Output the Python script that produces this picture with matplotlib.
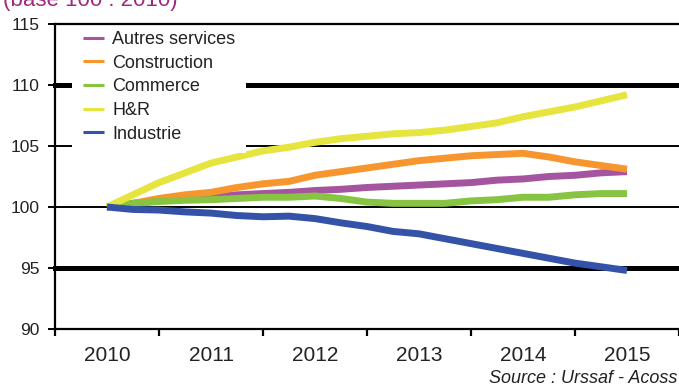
import numpy as np
import matplotlib.pyplot as plt

# quarterly index values, base 100 = 2010
quarters = np.arange(2010, 2015.01, 0.25)
years = [2010, 2011, 2012, 2013, 2014, 2015]

autres_services = [100, 100.3, 100.5, 100.7, 100.8, 101.0, 101.1, 101.2, 101.35, 101.45,
                   101.6, 101.7, 101.8, 101.9, 102.0, 102.2, 102.3, 102.5, 102.6, 102.8, 102.9]
construction = [100, 100.3, 100.7, 101.0, 101.2, 101.6, 101.9, 102.1, 102.6, 102.9,
                103.2, 103.5, 103.8, 104.0, 104.2, 104.3, 104.4, 104.1, 103.7, 103.4, 103.1]
commerce = [100, 100.3, 100.45, 100.55, 100.6, 100.7, 100.8, 100.8, 100.9, 100.7,
            100.4, 100.3, 100.3, 100.3, 100.5, 100.6, 100.8, 100.8, 101.0, 101.1, 101.1]
hr = [100, 101.0, 102.0, 102.8, 103.6, 104.1, 104.6, 104.9, 105.3, 105.6,
      105.8, 106.0, 106.1, 106.3, 106.6, 106.9, 107.4, 107.8, 108.2, 108.7, 109.2]
industrie = [100, 99.8, 99.75, 99.6, 99.5, 99.3, 99.2, 99.25, 99.05, 98.7,
             98.4, 98.0, 97.8, 97.4, 97.0, 96.6, 96.2, 95.8, 95.4, 95.1, 94.8]

labels = ["Autres services", "Construction", "Commerce", "H&R", "Industrie"]
colors = ["#a5559f", "#f7962f", "#86c441", "#e6e53f", "#3452a8"]
series = [autres_services, construction, commerce, hr, industrie]

plt.rcParams['font.family'] = ['Liberation Sans', 'DejaVu Sans']

fig = plt.figure(figsize=(6.79, 3.87), dpi=100)
ax = fig.add_axes([55 / 679, 1 - 329 / 387, 624 / 679, 305 / 387])

# horizontal grid lines, 95 and 110 drawn heavier
for lvl, lw in [(95, 3.6), (100, 1.4), (105, 1.4), (110, 3.6)]:
    ax.axhline(lvl, color="black", lw=lw, zorder=1, clip_on=False)
ax.axhline(115, color="black", lw=1.6, zorder=6, clip_on=False)

for vals, lab, col in zip(series, labels, colors):
    ax.plot(quarters, vals, color=col, lw=5, label=lab, solid_capstyle="butt", zorder=2)

ax.set_xlim(2009.5, 2015.5)
ax.set_ylim(90, 115)
ax.set_yticks([90, 95, 100, 105, 110, 115])
ax.set_xticks(years)
ax.set_xticks(np.arange(2009.5, 2015.6, 1), minor=True)
ax.tick_params(axis="x", which="major", length=0, pad=12, labelsize=15, labelcolor="#222222")
ax.tick_params(axis="x", which="minor", length=5, width=1.6, direction="out")
ax.tick_params(axis="y", length=5, width=1.4, pad=6, labelsize=12.5, labelcolor="#222222")

for s in ["top", "right"]:
    ax.spines[s].set_visible(False)
ax.spines["left"].set_linewidth(1.6)
ax.spines["bottom"].set_linewidth(1.6)

leg = ax.legend(loc="upper left", bbox_to_anchor=(0.027, 1.013), borderaxespad=0,
                frameon=True, fancybox=False, facecolor="white", edgecolor="none",
                framealpha=1, fontsize=13, handlelength=1.2, handletextpad=0.45,
                labelspacing=0.37, borderpad=0.6)
for h in leg.get_lines():
    h.set_linewidth(2.2)
for t in leg.get_texts():
    t.set_color("#222222")

fig.text(3 / 679, 1 - 6 / 387, "(base 100 : 2010)", color="#a0287f", fontsize=16,
         ha="left", va="baseline")
fig.text(677 / 679, 1 - 383 / 387, "Source : Urssaf - Acoss", fontsize=13, style="italic",
         color="#222222", ha="right", va="baseline")

fig.savefig("out.png", dpi=100)
